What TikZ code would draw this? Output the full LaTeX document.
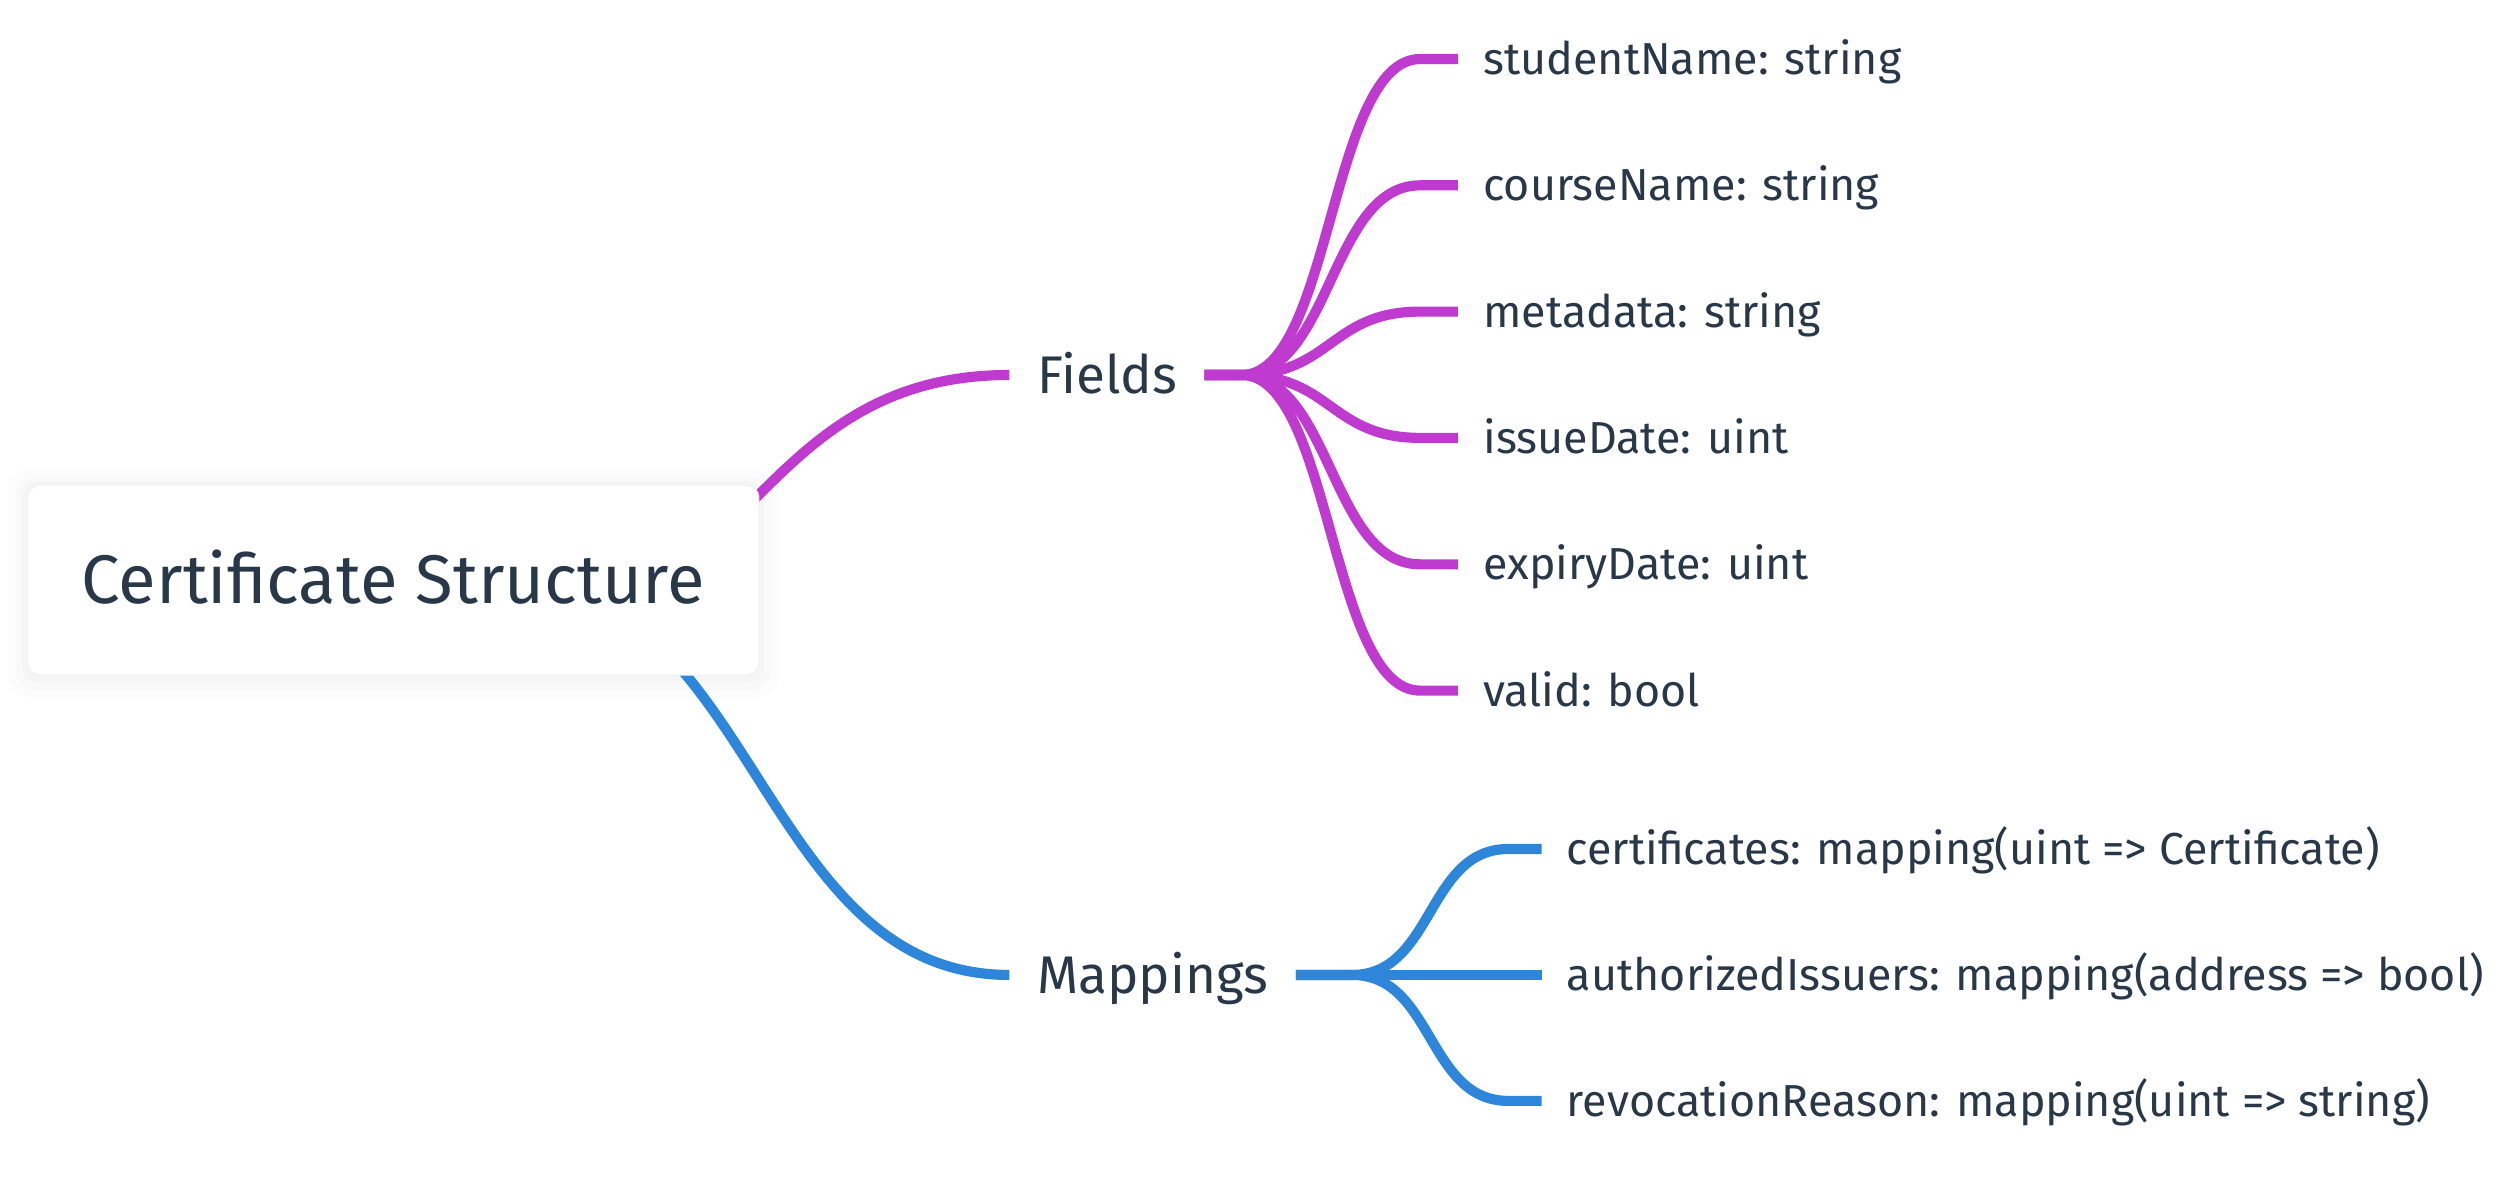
\documentclass[tikz,border=0pt]{standalone}
\usepackage{fontspec}
\setmainfont{Fira Sans}
\usetikzlibrary{calc,backgrounds}
\definecolor{FieldPurple}{RGB}{191,59,207}
\definecolor{MapBlue}{RGB}{46,134,218}
\definecolor{InkSlate}{RGB}{41,56,72}

\begin{document}
\begin{tikzpicture}[x=0.02cm,y=-0.02cm,
		rootbox/.style={draw=black!6,line width=0.4pt,fill=white,rounded corners=0.16cm,minimum width=9.12cm,minimum height=2.37cm,text=InkSlate,font=\fontsize{24.4}{29}\selectfont,text height=0.59cm,text depth=0pt},
		branch/.style={anchor=west,text=InkSlate,font=\fontsize{18.8}{22}\selectfont,text height=0.455cm,text depth=0pt,inner xsep=0.34cm,inner ysep=0pt},
		leaf/.style={anchor=west,text=InkSlate,font=\fontsize{15.9}{19}\selectfont,text height=0.385cm,text depth=0pt,inner xsep=0.31cm,inner ysep=0pt},
		fieldline/.style={FieldPurple,line width=3.6pt},
		mapline/.style={MapBlue,line width=3.6pt}]
	\useasboundingbox (0,0) rectangle (1568,742);
	\node[rootbox] (root) at (245,361.5) {Certificate Structure};
	\node[branch] (fields) at (629,233.7) {Fields};
	\node[branch] (mappings) at (629,607.6) {Mappings};
	% fields
	\node[leaf] (sname) at (908.6,36.8) {studentName: string};
	\node[leaf] (cname) at (908.6,115.5) {courseName: string};
	\node[leaf] (meta) at (908.6,194.2) {metadata: string};
	\node[leaf] (issue) at (908.6,272.9) {issueDate: uint};
	\node[leaf] (expiry) at (908.6,351.7) {expiryDate: uint};
	\node[leaf] (valid) at (908.6,430.4) {valid: bool};
	% mappings
	\node[leaf] (cert) at (960.7,529.1) {certificates: mapping(uint => Certificate)};
	\node[leaf] (auth) at (960.7,607.6) {authorizedIssuers: mapping(address => bool)};
	\node[leaf] (revoke) at (960.7,686.1) {revocationReason: mapping(uint => string)};
	\begin{scope}[on background layer]
		% soft halo under the root box
		\fill[black,opacity=0.012,rounded corners=0.3cm] ($(root.south west)+(-12,14)$) rectangle ($(root.north east)+(12,-10)$);
		\fill[black,opacity=0.012,rounded corners=0.25cm] ($(root.south west)+(-7,9)$) rectangle ($(root.north east)+(7,-5)$);
		\fill[black,opacity=0.015,rounded corners=0.2cm] ($(root.south west)+(-3,4)$) rectangle ($(root.north east)+(3,-2)$);
		\draw[fieldline] ($(root.center)+(55,38.5)$) .. controls +(164.5,0) and +(-164.5,0) .. (fields.west);
		\draw[mapline] ($(root.center)+(70,0)$) .. controls +(157,0) and +(-157,0) .. (mappings.west);
		\draw[fieldline] (fields.east) -- ++(23,0) .. controls +(56,0) and +(-56,0) .. ($(sname.west)+(-23.6,0)$) -- (sname.west);
		\draw[fieldline] (fields.east) -- ++(23,0) .. controls +(56,0) and +(-56,0) .. ($(cname.west)+(-23.6,0)$) -- (cname.west);
		\draw[fieldline] (fields.east) -- ++(23,0) .. controls +(56,0) and +(-56,0) .. ($(meta.west)+(-23.6,0)$) -- (meta.west);
		\draw[fieldline] (fields.east) -- ++(23,0) .. controls +(56,0) and +(-56,0) .. ($(issue.west)+(-23.6,0)$) -- (issue.west);
		\draw[fieldline] (fields.east) -- ++(23,0) .. controls +(56,0) and +(-56,0) .. ($(expiry.west)+(-23.6,0)$) -- (expiry.west);
		\draw[fieldline] (fields.east) -- ++(23,0) .. controls +(56,0) and +(-56,0) .. ($(valid.west)+(-23.6,0)$) -- (valid.west);
		\draw[mapline] (mappings.east) -- ++(35,0) .. controls +(51,0) and +(-51,0) .. ($(cert.west)+(-20.7,0)$) -- (cert.west);
		\draw[mapline] (mappings.east) -- (auth.west);
		\draw[mapline] (mappings.east) -- ++(35,0) .. controls +(51,0) and +(-51,0) .. ($(revoke.west)+(-20.7,0)$) -- (revoke.west);
	\end{scope}
\end{tikzpicture}
\end{document}
